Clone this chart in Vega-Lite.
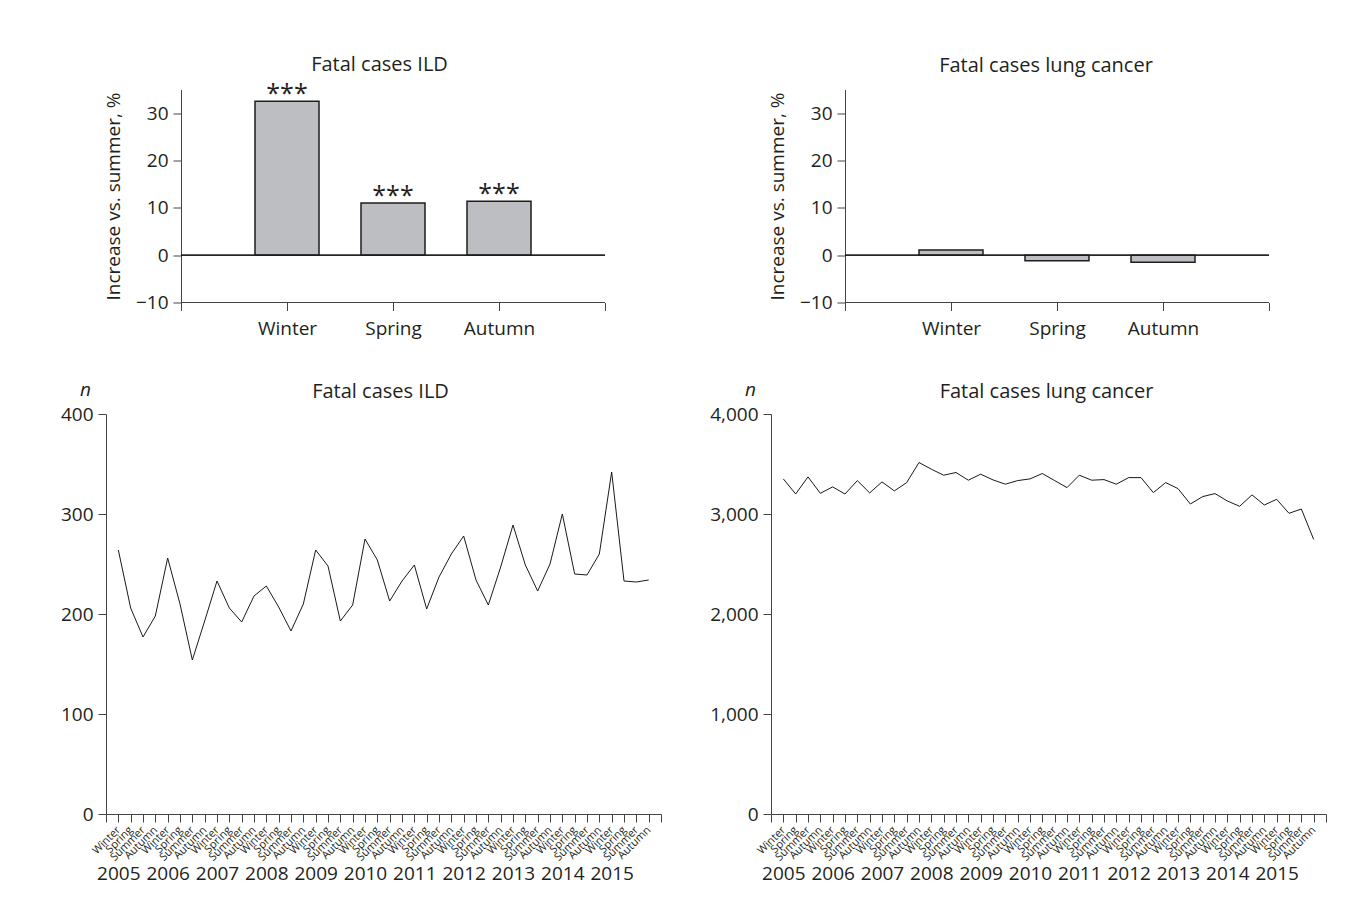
{
  "$schema": "https://vega.github.io/schema/vega-lite/v6.json",
  "background": "white",
  "padding": {"left": 60, "top": 54.5, "right": 5, "bottom": 5},
  "config": {
    "font": "Open Sans",
    "view": {"stroke": null},
    "axis": {"domainColor": "#444444", "tickColor": "#444444", "labelColor": "#231f20", "titleColor": "#231f20", "labelFont": "Open Sans", "titleFont": "Open Sans", "labelFontSize": 19, "titleFontSize": 19, "titleFontWeight": "normal", "tickSize": 8, "grid": false, "labelPadding": 5, "domainWidth": 1, "tickWidth": 1},
    "title": {"font": "Open Sans", "fontSize": 20, "fontWeight": "normal", "color": "#231f20", "offset": 12}
  },
  "datasets": {
    "ild_bar": [
      {"season": "Winter", "value": 32.5, "sig": "***"},
      {"season": "Spring", "value": 11.0, "sig": "***"},
      {"season": "Autumn", "value": 11.4, "sig": "***"}
    ],
    "lc_bar": [
      {"season": "Winter", "value": 1.1, "sig": ""},
      {"season": "Spring", "value": -1.2, "sig": ""},
      {"season": "Autumn", "value": -1.5, "sig": ""}
    ],
    "ild": [
      {"period": "2005 Winter", "n": 264}, {"period": "2005 Spring", "n": 206}, {"period": "2005 Summer", "n": 177}, {"period": "2005 Autumn", "n": 198},
      {"period": "2006 Winter", "n": 256}, {"period": "2006 Spring", "n": 210}, {"period": "2006 Summer", "n": 154}, {"period": "2006 Autumn", "n": 193},
      {"period": "2007 Winter", "n": 233}, {"period": "2007 Spring", "n": 206}, {"period": "2007 Summer", "n": 192}, {"period": "2007 Autumn", "n": 218},
      {"period": "2008 Winter", "n": 228}, {"period": "2008 Spring", "n": 207}, {"period": "2008 Summer", "n": 183}, {"period": "2008 Autumn", "n": 210},
      {"period": "2009 Winter", "n": 264}, {"period": "2009 Spring", "n": 248}, {"period": "2009 Summer", "n": 193}, {"period": "2009 Autumn", "n": 209},
      {"period": "2010 Winter", "n": 275}, {"period": "2010 Spring", "n": 254}, {"period": "2010 Summer", "n": 213}, {"period": "2010 Autumn", "n": 233},
      {"period": "2011 Winter", "n": 249}, {"period": "2011 Spring", "n": 205}, {"period": "2011 Summer", "n": 237}, {"period": "2011 Autumn", "n": 260},
      {"period": "2012 Winter", "n": 278}, {"period": "2012 Spring", "n": 234}, {"period": "2012 Summer", "n": 209}, {"period": "2012 Autumn", "n": 247},
      {"period": "2013 Winter", "n": 289}, {"period": "2013 Spring", "n": 249}, {"period": "2013 Summer", "n": 223}, {"period": "2013 Autumn", "n": 250},
      {"period": "2014 Winter", "n": 300}, {"period": "2014 Spring", "n": 240}, {"period": "2014 Summer", "n": 239}, {"period": "2014 Autumn", "n": 260},
      {"period": "2015 Winter", "n": 342}, {"period": "2015 Spring", "n": 233}, {"period": "2015 Summer", "n": 232}, {"period": "2015 Autumn", "n": 234}
    ],
    "lc": [
      {"period": "2005 Winter", "n": 3351}, {"period": "2005 Spring", "n": 3200}, {"period": "2005 Summer", "n": 3371}, {"period": "2005 Autumn", "n": 3207},
      {"period": "2006 Winter", "n": 3271}, {"period": "2006 Spring", "n": 3200}, {"period": "2006 Summer", "n": 3334}, {"period": "2006 Autumn", "n": 3211},
      {"period": "2007 Winter", "n": 3321}, {"period": "2007 Spring", "n": 3231}, {"period": "2007 Summer", "n": 3314}, {"period": "2007 Autumn", "n": 3515},
      {"period": "2008 Winter", "n": 3448}, {"period": "2008 Spring", "n": 3388}, {"period": "2008 Summer", "n": 3415}, {"period": "2008 Autumn", "n": 3338},
      {"period": "2009 Winter", "n": 3398}, {"period": "2009 Spring", "n": 3341}, {"period": "2009 Summer", "n": 3298}, {"period": "2009 Autumn", "n": 3334},
      {"period": "2010 Winter", "n": 3351}, {"period": "2010 Spring", "n": 3405}, {"period": "2010 Summer", "n": 3334}, {"period": "2010 Autumn", "n": 3264},
      {"period": "2011 Winter", "n": 3388}, {"period": "2011 Spring", "n": 3338}, {"period": "2011 Summer", "n": 3344}, {"period": "2011 Autumn", "n": 3298},
      {"period": "2012 Winter", "n": 3364}, {"period": "2012 Spring", "n": 3364}, {"period": "2012 Summer", "n": 3214}, {"period": "2012 Autumn", "n": 3314},
      {"period": "2013 Winter", "n": 3254}, {"period": "2013 Spring", "n": 3100}, {"period": "2013 Summer", "n": 3174}, {"period": "2013 Autumn", "n": 3204},
      {"period": "2014 Winter", "n": 3130}, {"period": "2014 Spring", "n": 3077}, {"period": "2014 Summer", "n": 3191}, {"period": "2014 Autumn", "n": 3090},
      {"period": "2015 Winter", "n": 3147}, {"period": "2015 Spring", "n": 3007}, {"period": "2015 Summer", "n": 3050}, {"period": "2015 Autumn", "n": 2746}
    ]
  },
  "columns": 2,
  "bounds": "flush",
  "spacing": {"row": 111.5, "column": 110},
  "concat": [
    {
      "width": 499, "height": 213,
      "title": {"text": "Fatal cases ILD", "frame": "group", "dx": 24, "offset": 7},
      "data": {"name": "ild_bar"},
      "encoding": {
        "x": {"field": "season", "type": "ordinal", "scale": {"type": "point", "domain": ["_s", "Winter", "Spring", "Autumn", "_e"], "padding": 0.353774, "align": 1, "round": false}, "axis": {"title": null, "labelAngle": 0, "domain": false, "labelPadding": 9, "labelExpr": "slice(datum.value,0,1)=='_' ? '' : datum.value"}}
      },
      "layer": [
        {
          "mark": {"type": "bar", "width": 64, "fill": "#bdbec2", "stroke": "#1e1e1e", "strokeWidth": 1.5},
          "encoding": {
            "y": {"field": "value", "type": "quantitative", "scale": {"domain": [-10, 35], "nice": false}, "axis": {"values": [-10, 0, 10, 20, 30], "title": "Increase vs. summer, %", "titlePadding": 12, "offset": -75}}
          }
        },
        {"mark": {"type": "rule", "color": "#1e1e1e", "strokeWidth": 1}, "encoding": {"x": {"datum": "_s", "type": "ordinal"}, "x2": {"datum": "_e"}, "y": {"datum": 0, "type": "quantitative"}}},
        {"mark": {"type": "rule", "color": "#444444", "strokeWidth": 1}, "encoding": {"x": {"datum": "_s", "type": "ordinal"}, "x2": {"datum": "_e"}, "y": {"datum": -10, "type": "quantitative"}}},
        {
          "mark": {"type": "text", "fontSize": 25, "baseline": "alphabetic", "dy": 1, "color": "#231f20"},
          "encoding": {
            "y": {"field": "value", "type": "quantitative"},
            "text": {"field": "sig"}
          }
        }
      ]
    },
    {
      "width": 498, "height": 213,
      "title": {"text": "Fatal cases lung cancer", "frame": "group", "dx": 26, "offset": 14},
      "data": {"name": "lc_bar"},
      "encoding": {
        "x": {"field": "season", "type": "ordinal", "scale": {"type": "point", "domain": ["_s", "Winter", "Spring", "Autumn", "_e"], "padding": 0.349057, "align": 1, "round": false}, "axis": {"title": null, "labelAngle": 0, "domain": false, "labelPadding": 9, "labelExpr": "slice(datum.value,0,1)=='_' ? '' : datum.value"}}
      },
      "layer": [
        {
          "mark": {"type": "bar", "width": 64, "fill": "#bdbec2", "stroke": "#1e1e1e", "strokeWidth": 1.5},
          "encoding": {
            "y": {"field": "value", "type": "quantitative", "scale": {"domain": [-10, 35], "nice": false}, "axis": {"values": [-10, 0, 10, 20, 30], "title": "Increase vs. summer, %", "titlePadding": 12, "offset": -74}}
          }
        },
        {"mark": {"type": "rule", "color": "#1e1e1e", "strokeWidth": 1}, "encoding": {"x": {"datum": "_s", "type": "ordinal"}, "x2": {"datum": "_e"}, "y": {"datum": 0, "type": "quantitative"}}},
        {"mark": {"type": "rule", "color": "#444444", "strokeWidth": 1}, "encoding": {"x": {"datum": "_s", "type": "ordinal"}, "x2": {"datum": "_e"}, "y": {"datum": -10, "type": "quantitative"}}}
      ]
    },
    {
      "width": 555, "height": 400,
      "title": {"text": "Fatal cases ILD", "frame": "group", "dx": -3, "offset": -22},
      "data": {"name": "ild"},
      "layer": [
        {
          "mark": {"type": "line", "color": "#1a1a1a", "strokeWidth": 1, "order": false},
          "encoding": {
            "x": {"field": "period", "type": "ordinal", "scale": {"type": "point", "padding": 0, "domain": ["_s", "2005 Winter", "2005 Spring", "2005 Summer", "2005 Autumn", "2006 Winter", "2006 Spring", "2006 Summer", "2006 Autumn", "2007 Winter", "2007 Spring", "2007 Summer", "2007 Autumn", "2008 Winter", "2008 Spring", "2008 Summer", "2008 Autumn", "2009 Winter", "2009 Spring", "2009 Summer", "2009 Autumn", "2010 Winter", "2010 Spring", "2010 Summer", "2010 Autumn", "2011 Winter", "2011 Spring", "2011 Summer", "2011 Autumn", "2012 Winter", "2012 Spring", "2012 Summer", "2012 Autumn", "2013 Winter", "2013 Spring", "2013 Summer", "2013 Autumn", "2014 Winter", "2014 Spring", "2014 Summer", "2014 Autumn", "2015 Winter", "2015 Spring", "2015 Summer", "2015 Autumn", "_e"]},
              "axis": {"title": null, "labelExpr": "slice(datum.value,5)", "labelAngle": -45, "labelAlign": "right", "labelBaseline": "middle", "labelFontSize": 11, "labelPadding": 6, "labelOverlap": false}},
            "y": {"field": "n", "type": "quantitative", "scale": {"domain": [0, 400], "nice": false}, "axis": {"values": [0, 100, 200, 300, 400], "title": "n", "titleAngle": 0, "titleFontStyle": "italic", "titleX": -21, "titleY": -19, "titleAlign": "center", "titleBaseline": "alphabetic"}}
          }
        },
        {
          "mark": {"type": "point", "opacity": 0},
          "encoding": {
            "x": {"field": "period", "type": "ordinal", "scale": {"type": "point", "padding": 0, "domain": ["_s", "2005 Winter", "2005 Spring", "2005 Summer", "2005 Autumn", "2006 Winter", "2006 Spring", "2006 Summer", "2006 Autumn", "2007 Winter", "2007 Spring", "2007 Summer", "2007 Autumn", "2008 Winter", "2008 Spring", "2008 Summer", "2008 Autumn", "2009 Winter", "2009 Spring", "2009 Summer", "2009 Autumn", "2010 Winter", "2010 Spring", "2010 Summer", "2010 Autumn", "2011 Winter", "2011 Spring", "2011 Summer", "2011 Autumn", "2012 Winter", "2012 Spring", "2012 Summer", "2012 Autumn", "2013 Winter", "2013 Spring", "2013 Summer", "2013 Autumn", "2014 Winter", "2014 Spring", "2014 Summer", "2014 Autumn", "2015 Winter", "2015 Spring", "2015 Summer", "2015 Autumn", "_e"]},
              "axis": {"orient": "bottom", "title": null, "values": ["2005 Winter", "2006 Winter", "2007 Winter", "2008 Winter", "2009 Winter", "2010 Winter", "2011 Winter", "2012 Winter", "2013 Winter", "2014 Winter", "2015 Winter"], "labelExpr": "slice(datum.value,0,4)", "ticks": false, "domain": false, "labelAngle": 0, "labelAlign": "center", "labelBaseline": "top", "labelPadding": 50, "labelFontSize": 19, "labelOverlap": false}}
          }
        }
      ],
      "resolve": {"axis": {"x": "independent"}}
    },
    {
      "width": 555, "height": 400,
      "title": {"text": "Fatal cases lung cancer", "frame": "group", "dx": -2, "offset": -22},
      "data": {"name": "lc"},
      "layer": [
        {
          "mark": {"type": "line", "color": "#1a1a1a", "strokeWidth": 1, "order": false},
          "encoding": {
            "x": {"field": "period", "type": "ordinal", "scale": {"type": "point", "padding": 0, "domain": ["_s", "2005 Winter", "2005 Spring", "2005 Summer", "2005 Autumn", "2006 Winter", "2006 Spring", "2006 Summer", "2006 Autumn", "2007 Winter", "2007 Spring", "2007 Summer", "2007 Autumn", "2008 Winter", "2008 Spring", "2008 Summer", "2008 Autumn", "2009 Winter", "2009 Spring", "2009 Summer", "2009 Autumn", "2010 Winter", "2010 Spring", "2010 Summer", "2010 Autumn", "2011 Winter", "2011 Spring", "2011 Summer", "2011 Autumn", "2012 Winter", "2012 Spring", "2012 Summer", "2012 Autumn", "2013 Winter", "2013 Spring", "2013 Summer", "2013 Autumn", "2014 Winter", "2014 Spring", "2014 Summer", "2014 Autumn", "2015 Winter", "2015 Spring", "2015 Summer", "2015 Autumn", "_e"]},
              "axis": {"title": null, "labelExpr": "slice(datum.value,5)", "labelAngle": -45, "labelAlign": "right", "labelBaseline": "middle", "labelFontSize": 11, "labelPadding": 6, "labelOverlap": false}},
            "y": {"field": "n", "type": "quantitative", "scale": {"domain": [0, 4000], "nice": false}, "axis": {"values": [0, 1000, 2000, 3000, 4000], "format": ",.0f", "title": "n", "titleAngle": 0, "titleFontStyle": "italic", "titleX": -21, "titleY": -19, "titleAlign": "center", "titleBaseline": "alphabetic"}}
          }
        },
        {
          "mark": {"type": "point", "opacity": 0},
          "encoding": {
            "x": {"field": "period", "type": "ordinal", "scale": {"type": "point", "padding": 0, "domain": ["_s", "2005 Winter", "2005 Spring", "2005 Summer", "2005 Autumn", "2006 Winter", "2006 Spring", "2006 Summer", "2006 Autumn", "2007 Winter", "2007 Spring", "2007 Summer", "2007 Autumn", "2008 Winter", "2008 Spring", "2008 Summer", "2008 Autumn", "2009 Winter", "2009 Spring", "2009 Summer", "2009 Autumn", "2010 Winter", "2010 Spring", "2010 Summer", "2010 Autumn", "2011 Winter", "2011 Spring", "2011 Summer", "2011 Autumn", "2012 Winter", "2012 Spring", "2012 Summer", "2012 Autumn", "2013 Winter", "2013 Spring", "2013 Summer", "2013 Autumn", "2014 Winter", "2014 Spring", "2014 Summer", "2014 Autumn", "2015 Winter", "2015 Spring", "2015 Summer", "2015 Autumn", "_e"]},
              "axis": {"orient": "bottom", "title": null, "values": ["2005 Winter", "2006 Winter", "2007 Winter", "2008 Winter", "2009 Winter", "2010 Winter", "2011 Winter", "2012 Winter", "2013 Winter", "2014 Winter", "2015 Winter"], "labelExpr": "slice(datum.value,0,4)", "ticks": false, "domain": false, "labelAngle": 0, "labelAlign": "center", "labelBaseline": "top", "labelPadding": 50, "labelFontSize": 19, "labelOverlap": false}}
          }
        }
      ],
      "resolve": {"axis": {"x": "independent"}}
    }
  ]
}
